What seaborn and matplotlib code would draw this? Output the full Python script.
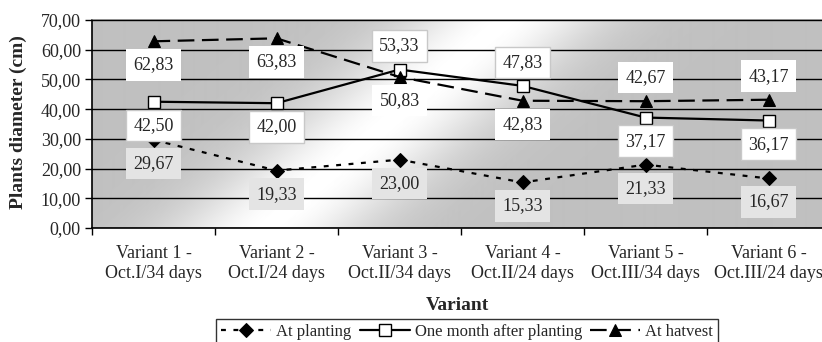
import numpy as np
import pandas as pd
import matplotlib
matplotlib.use("Agg")
import matplotlib.pyplot as plt
import seaborn as sns
from matplotlib.ticker import FuncFormatter, FixedLocator

categories = ["Variant 1 -\nOct.I/34 days", "Variant 2 -\nOct.I/24 days",
              "Variant 3 -\nOct.II/34 days", "Variant 4 -\nOct.II/24 days",
              "Variant 5 -\nOct.III/34 days", "Variant 6 -\nOct.III/24 days"]
at_planting = [29.67, 19.33, 23.00, 15.33, 21.33, 16.67]
one_month = [42.50, 42.00, 53.33, 47.83, 37.17, 36.17]
at_harvest = [62.83, 63.83, 50.83, 42.83, 42.67, 43.17]
series_names = ["At planting", "One month after planting", "At hatvest"]
# label placement: -1 below, +1 above
pos_planting = [-1, -1, -1, -1, -1, -1]
pos_month = [-1, -1, 1, 1, -1, -1]
pos_harvest = [-1, -1, -1, -1, 1, 1]

sns.set_theme(style="white")
plt.rcParams['font.family'] = ['Liberation Serif', 'DejaVu Serif']
plt.rcParams['font.size'] = 13

W, H = 822, 342
fig = plt.figure(figsize=(W / 100, H / 100), dpi=100)
L, T, R, B = 92, 20, 830, 228
ax = fig.add_axes([L / W, 1 - B / H, (R - L) / W, (B - T) / H])

# gradient background
pw, ph = R - L, B - T
xx, yy = np.meshgrid(np.arange(pw), np.arange(ph)[::-1])
t = (xx - 175) - yy * 1.15
inten = np.exp(-(t / 100.0) ** 2)
gray = 0xC0 / 255
img = gray + (1 - gray) * inten
ax.imshow(img, cmap="gray", vmin=0, vmax=1, extent=[0, 1, 0, 1],
          transform=ax.transAxes, aspect="auto", zorder=0, interpolation="bilinear")

x = np.arange(len(categories))
df = pd.DataFrame({"x": np.tile(x, 3),
                   "value": at_planting + one_month + at_harvest,
                   "series": np.repeat(series_names, len(categories))})

styles = {
    "At planting": dict(marker="D", markersize=7.5, markerfacecolor="black",
                        markeredgecolor="black", linestyle=(0, (2.2, 3.4))),
    "One month after planting": dict(marker="s", markersize=8, markerfacecolor="white",
                                     markeredgecolor="black", markeredgewidth=1.0,
                                     linestyle="-"),
    "At hatvest": dict(marker="^", markersize=9, markerfacecolor="black",
                       markeredgecolor="black", linestyle=(0, (7.5, 3.4))),
}
for name in series_names:
    sub = df[df["series"] == name]
    sns.lineplot(data=sub, x="x", y="value", ax=ax, color="black", lw=1.6,
                 sort=False, label=name, zorder=3, **styles[name])

def fmt(v):
    return f"{v:.2f}".replace(".", ",")

boxes = {
    "At planting": dict(boxstyle="square,pad=0.4", fc="#e4e4e4", ec="none"),
    "One month after planting": dict(boxstyle="square,pad=0.4", fc="white", ec="#c8c8c8", lw=1.0),
    "At hatvest": dict(boxstyle="square,pad=0.4", fc="white", ec="none"),
}
for name, vals, pos in [("At planting", at_planting, pos_planting),
                        ("One month after planting", one_month, pos_month),
                        ("At hatvest", at_harvest, pos_harvest)]:
    for xi, v, p in zip(x, vals, pos):
        ax.annotate(fmt(v), (xi, v), xytext=(0, 17 * p), textcoords="offset points",
                    ha="center", va="center", fontsize=13, zorder=4,
                    bbox=boxes[name])

ax.set_xlim(-0.5, 5.5)
ax.set_ylim(0, 70)
ax.set_yticks(np.arange(0, 71, 10))
ax.yaxis.set_major_formatter(FuncFormatter(lambda v, p: fmt(v)))
ax.yaxis.grid(True, color="black", lw=1.0)
ax.set_axisbelow(False)
for gl in ax.get_ygridlines():
    gl.set_zorder(1)

ax.xaxis.set_major_locator(FixedLocator(np.arange(-0.5, 6, 1)))
ax.xaxis.set_minor_locator(FixedLocator(x))
ax.set_xticklabels([""] * 7)
ax.set_xticklabels(categories, minor=True)
ax.tick_params(axis="x", which="major", direction="out", length=5, width=1, color="black", bottom=True)
ax.tick_params(axis="x", which="minor", length=0, pad=12, labelsize=13)
ax.tick_params(axis="y", direction="out", length=5, width=1, color="black", left=True, pad=3, labelsize=13)
for lab in ax.get_xticklabels(minor=True):
    lab.set_linespacing(1.25)

ax.set_xlabel("")
ax.set_ylabel("")
ax.spines["left"].set_color("black")
ax.spines["bottom"].set_color("black")
ax.spines["left"].set_linewidth(1.2)
ax.spines["bottom"].set_linewidth(1.2)
ax.spines["top"].set_color("#808080")
ax.spines["right"].set_color("#808080")

fig.text(457 / W, 1 - 305 / H, "Variant", ha="center", va="center", fontsize=14, fontweight="bold")
fig.text(18 / W, 1 - 122 / H, "Plants diameter (cm)", ha="center", va="center",
         rotation=90, fontsize=14, fontweight="bold")

handles, labels = ax.get_legend_handles_labels()
if ax.get_legend():
    ax.get_legend().remove()
leg = fig.legend(handles, labels, loc="upper left", bbox_to_anchor=(216 / W, 1 - 319 / H),
                 ncol=3, frameon=True, fancybox=False, fontsize=12, handlelength=3.0,
                 handletextpad=0.3, columnspacing=0.5, borderpad=0.3, borderaxespad=0)
leg.get_frame().set_edgecolor("black")
leg.get_frame().set_linewidth(1.0)
leg.get_frame().set_facecolor("white")

fig.savefig("out.png", dpi=100)
